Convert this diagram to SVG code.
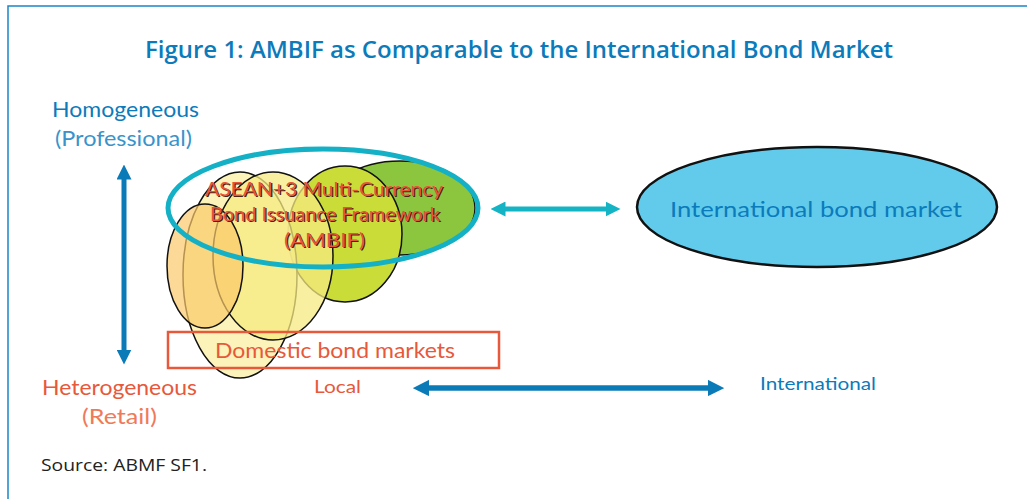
<svg xmlns="http://www.w3.org/2000/svg" width="1027" height="499" viewBox="0 0 1027 499">
<style>
.lato{font-family:Lato,"Open Sans","Liberation Sans",sans-serif}
.blue{fill:#0b7bbb}
.red{fill:#e8583a}
.ell{stroke:#111;stroke-width:1.5}
</style>
<defs>
<marker id="ahB" viewBox="0 0 10 10" refX="5" refY="5" markerWidth="3" markerHeight="3" orient="auto-start-reverse" markerUnits="strokeWidth"><path d="M0,0 L10,5 L0,10 z" fill="#0b7bb8"/></marker>
<marker id="ahC" viewBox="0 0 10 10" refX="5" refY="5" markerWidth="3" markerHeight="3" orient="auto-start-reverse" markerUnits="strokeWidth"><path d="M0,0 L10,5 L0,10 z" fill="#14b4c4"/></marker>
</defs>
<rect width="1027" height="499" fill="#fff"/>
<path d="M8,499 V6 H1027" fill="none" stroke="#1a86c8" stroke-width="1.5"/>
<text x="519" y="58" text-anchor="middle" font-family="'Open Sans','Liberation Sans',sans-serif" font-weight="600" font-size="23" textLength="748" lengthAdjust="spacingAndGlyphs" fill="#0b7bbb">Figure 1: AMBIF as Comparable to the International Bond Market</text>

<g id="axis-labels" class="lato" font-size="21" lengthAdjust="spacingAndGlyphs">
<text class="blue" x="52" y="117" textLength="147" lengthAdjust="spacingAndGlyphs">Homogeneous</text>
<text x="55" y="146" textLength="137" lengthAdjust="spacingAndGlyphs" fill="#3a93cb">(Professional)</text>
<text class="red" x="42" y="395" textLength="155" lengthAdjust="spacingAndGlyphs">Heterogeneous</text>
<text x="82" y="424" textLength="75" lengthAdjust="spacingAndGlyphs" fill="#ef7a5a">(Retail)</text>
<text class="red" x="314" y="393" font-size="18" textLength="47" lengthAdjust="spacingAndGlyphs">Local</text>
<text class="blue" x="760" y="390" font-size="18" textLength="116" lengthAdjust="spacingAndGlyphs">International</text>
</g>

<g id="connectors">
<line x1="124" y1="172" x2="124" y2="357" stroke="#0b7bb8" stroke-width="5" marker-start="url(#ahB)" marker-end="url(#ahB)"/>
<line x1="421" y1="388" x2="716" y2="388" stroke="#0b7bb8" stroke-width="5.5" marker-start="url(#ahB)" marker-end="url(#ahB)"/>
<line x1="498" y1="209" x2="613" y2="209" stroke="#14b4c4" stroke-width="5" marker-start="url(#ahC)" marker-end="url(#ahC)"/>
</g>

<g id="domestic-markets">
<ellipse class="ell" cx="400" cy="208" rx="75" ry="47" fill="#8cc63f"/>
<ellipse class="ell" cx="345" cy="234" rx="57" ry="68" fill="#c9dc38"/>
<ellipse class="ell" cx="240" cy="275" rx="57" ry="103" fill="#faf0a8" fill-opacity="0.8"/>
<ellipse class="ell" cx="273" cy="256" rx="60" ry="84" fill="#f6ea80" fill-opacity="0.75"/>
<ellipse class="ell" cx="205" cy="266" rx="38" ry="62" fill="#fbc96a" fill-opacity="0.7"/>
</g>

<g id="ambif">
<ellipse cx="323" cy="208" rx="155" ry="59" fill="none" stroke="#14b0c6" stroke-width="5"/>
<g class="lato" font-size="20" lengthAdjust="spacingAndGlyphs">
<g fill="#4a2418" transform="translate(1.3,1.3)">
<text x="205" y="196" textLength="238" lengthAdjust="spacingAndGlyphs">ASEAN+3 Multi-Currency</text>
<text x="210" y="221" textLength="230" lengthAdjust="spacingAndGlyphs">Bond Issuance Framework</text>
<text x="284" y="247" textLength="81" lengthAdjust="spacingAndGlyphs">(AMBIF)</text>
</g>
<g fill="#e8533a">
<text x="205" y="196" textLength="238" lengthAdjust="spacingAndGlyphs">ASEAN+3 Multi-Currency</text>
<text x="210" y="221" textLength="230" lengthAdjust="spacingAndGlyphs">Bond Issuance Framework</text>
<text x="284" y="247" textLength="81" lengthAdjust="spacingAndGlyphs">(AMBIF)</text>
</g>
</g>
</g>

<g id="domestic-box">
<rect x="168" y="332" width="331" height="36" fill="none" stroke="#e8583a" stroke-width="2.5"/>
<text class="lato red" x="215" y="358" font-size="21" textLength="240" lengthAdjust="spacingAndGlyphs">Domestic bond markets</text>
</g>

<g id="international-market">
<ellipse cx="817" cy="207" rx="180" ry="60" fill="#62cbeb" stroke="#111" stroke-width="2.5"/>
<text class="lato blue" x="670" y="217" font-size="22" textLength="292" lengthAdjust="spacingAndGlyphs">International bond market</text>
</g>

<text x="41" y="471" font-family="'Open Sans','Liberation Sans',sans-serif" font-size="17" textLength="166" lengthAdjust="spacingAndGlyphs" fill="#222">Source: ABMF SF1.</text>
</svg>
